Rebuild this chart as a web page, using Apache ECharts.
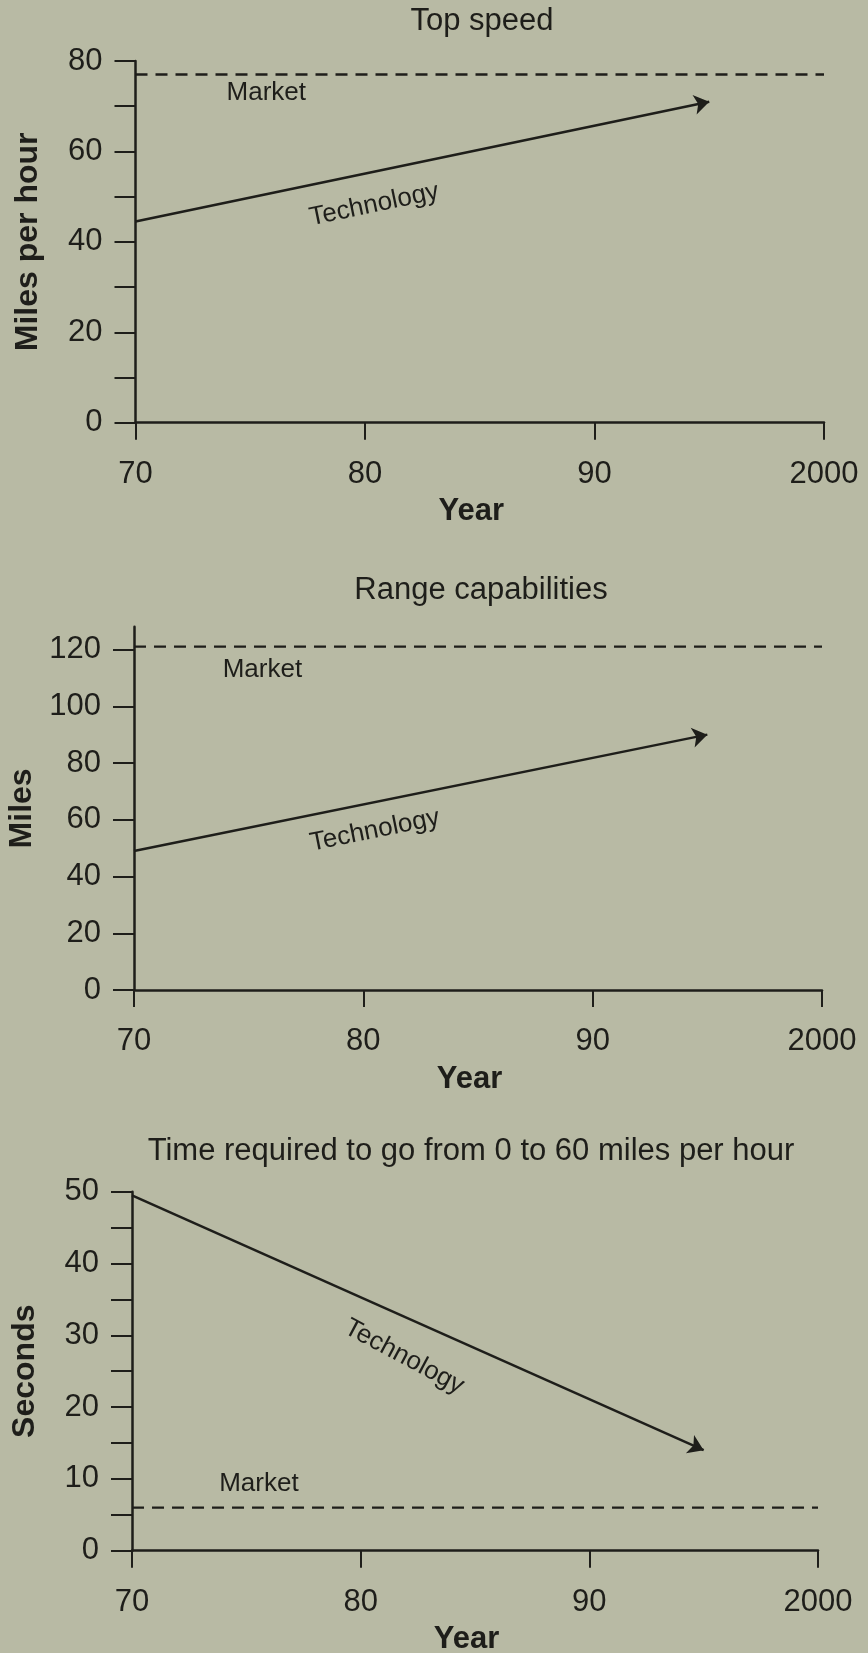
<!DOCTYPE html>
<html>
<head>
<meta charset="utf-8">
<script src="https://cdn.jsdelivr.net/npm/echarts@6/dist/echarts.min.js"></script>
<style>
  html, body { margin: 0; padding: 0; background: #b8baa4; }
  #chart { width: 868px; height: 1653px; }
</style>
</head>
<body>
<div id="chart"></div>
<script>
// Years on the horizontal axes (100 stands for the year 2000)
const yearTicks = [70, 80, 90, 100];
const yearLabels = ['70', '80', '90', '2000'];
const techYears = [70, 95];

// Top speed (miles per hour)
const speedTech = [44.5, 71];
const speedMarket = 77;
const speedTicks = [0, 10, 20, 30, 40, 50, 60, 70, 80];
const speedLabels = [0, 20, 40, 60, 80];

// Range capabilities (miles)
const rangeTech = [49, 90];
const rangeMarket = 121;
const rangeTicks = [0, 20, 40, 60, 80, 100, 120];
const rangeLabels = [0, 20, 40, 60, 80, 100, 120];

// Time from 0 to 60 mph (seconds)
const accelTech = [49.5, 14];
const accelMarket = 6;
const accelTicks = [0, 5, 10, 15, 20, 25, 30, 35, 40, 45, 50];
const accelLabels = [0, 10, 20, 30, 40, 50];

const INK = '#1e1e1a';
const FONT = '"Liberation Sans", Arial, Helvetica, sans-serif';

const panels = [
  {
    title: 'Top speed', titleX: 482, titleY: 21,
    grid: { left: 135.5, right: 44, top: 61, height: 361.7 },
    yName: 'Miles per hour', yMax: 80, yInterval: 10,
    ticks: speedTicks, labels: speedLabels,
    tech: speedTech, market: speedMarket,
    marketAt: [75.7, 72.9], techAt: [80.4, 48.2], techTilt: 0
  },
  {
    title: 'Range capabilities', titleX: 481, titleY: 590,
    grid: { left: 134, right: 46, top: 626.8, height: 363.2 },
    yName: 'Miles', yMax: 128, yInterval: 20,
    ticks: rangeTicks, labels: rangeLabels,
    tech: rangeTech, market: rangeMarket,
    marketAt: [75.6, 113], techAt: [80.5, 56.2], techTilt: 0
  },
  {
    title: 'Time required to go from 0 to 60 miles per hour', titleX: 471, titleY: 1151,
    grid: { left: 132, right: 50, top: 1191.7, height: 359 },
    yName: 'Seconds', yMax: 50, yInterval: 5,
    ticks: accelTicks, labels: accelLabels,
    tech: accelTech, market: accelMarket,
    marketAt: [75.55, 9.3], techAt: [81.9, 27], techTilt: -4
  }
];

const grids = [], xAxes = [], yAxes = [], series = [];

panels.forEach((p, i) => {
  grids.push(Object.assign({ outerBoundsMode: 'none', containLabel: false }, p.grid));

  xAxes.push({
    type: 'value', gridIndex: i, min: 70, max: 100, interval: 10,
    axisLine: { show: true, onZero: false, lineStyle: { color: INK, width: 2.5 } },
    axisTick: { show: true, length: 17, lineStyle: { color: INK, width: 2 } },
    axisLabel: {
      margin: 36, color: INK, fontSize: 31, fontFamily: FONT,
      formatter: v => { const k = yearTicks.indexOf(v); return k >= 0 ? yearLabels[k] : ''; }
    },
    splitLine: { show: false },
    name: 'Year', nameLocation: 'middle', nameGap: 89,
    nameTextStyle: { color: INK, fontSize: 31, fontWeight: 'bold', fontFamily: FONT,
                     verticalAlign: 'middle', padding: [0, 17, 0, 0] }
  });

  yAxes.push({
    type: 'value', gridIndex: i, min: 0, max: p.yMax, interval: p.yInterval,
    axisLine: { show: true, onZero: false, lineStyle: { color: INK, width: 2.5 } },
    axisTick: { show: true, length: 21, customValues: p.ticks, lineStyle: { color: INK, width: 2 } },
    axisLabel: { margin: 33, color: INK, fontSize: 31, fontFamily: FONT,
                 customValues: p.labels, padding: [8, 0, 0, 0] },
    splitLine: { show: false },
    name: p.yName, nameLocation: 'middle', nameGap: 107, nameRotate: 90,
    nameTextStyle: { color: INK, fontSize: 32, fontWeight: 'bold', fontFamily: FONT, verticalAlign: 'middle' }
  });

  // market requirement: dashed horizontal line
  series.push({
    type: 'line', xAxisIndex: i, yAxisIndex: i,
    data: [[70, p.market], [100, p.market]],
    showSymbol: false, symbol: 'none', silent: true,
    lineStyle: { color: INK, width: 2.4, type: [12, 8] }
  });

  // technology trend: arrow from 1970 to 1995
  series.push({
    type: 'lines', coordinateSystem: 'cartesian2d', xAxisIndex: i, yAxisIndex: i,
    symbol: ['none', 'arrow'], symbolSize: 15, silent: true,
    lineStyle: { color: INK, width: 2.5, opacity: 1, curveness: 0 },
    itemStyle: { color: INK },
    data: [{ coords: [[techYears[0], p.tech[0]], [techYears[1], p.tech[1]]] }]
  });
});

const chart = echarts.init(document.getElementById('chart'), null, { renderer: 'canvas' });
chart.setOption({
  animation: false,
  backgroundColor: '#b8baa4',
  grid: grids, xAxis: xAxes, yAxis: yAxes, series: series
});

// Titles and in-plot annotations, placed through each grid's scales
const graphics = [];
panels.forEach((p, i) => {
  graphics.push({
    type: 'text', x: p.titleX, y: p.titleY,
    style: { text: p.title, fill: INK, font: '31px ' + FONT,
             align: 'center', verticalAlign: 'middle', textAlign: 'center', textVerticalAlign: 'middle' }
  });
  const a = chart.convertToPixel({ gridIndex: i }, [techYears[0], p.tech[0]]);
  const b = chart.convertToPixel({ gridIndex: i }, [techYears[1], p.tech[1]]);
  const angle = Math.atan2(a[1] - b[1], b[0] - a[0]) + p.techTilt * Math.PI / 180;
  const m = chart.convertToPixel({ gridIndex: i }, p.marketAt);
  const t = chart.convertToPixel({ gridIndex: i }, p.techAt);
  graphics.push({
    type: 'text', x: m[0], y: m[1],
    style: { text: 'Market', fill: INK, font: '26px ' + FONT,
             align: 'center', verticalAlign: 'middle', textAlign: 'center', textVerticalAlign: 'middle' }
  });
  graphics.push({
    type: 'text', x: t[0], y: t[1], rotation: angle,
    style: { text: 'Technology', fill: INK, font: '26px ' + FONT,
             align: 'center', verticalAlign: 'middle', textAlign: 'center', textVerticalAlign: 'middle' }
  });
});
chart.setOption({ graphic: graphics });
</script>
</body>
</html>
